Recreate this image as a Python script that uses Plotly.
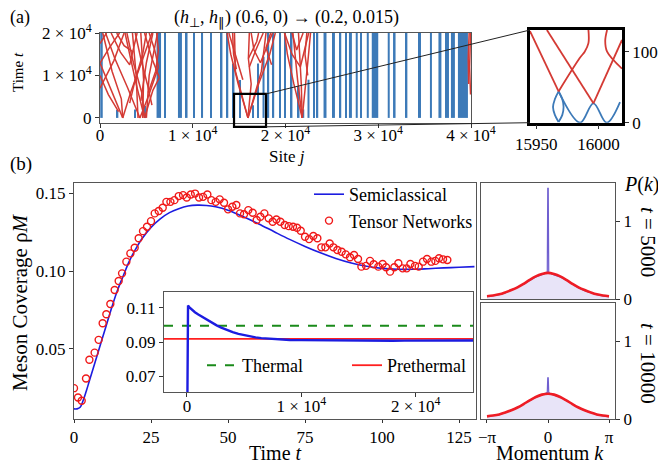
import numpy as np
import plotly.graph_objects as go

# the page puts the figure 8px in from the top-left corner of the window
OFF = 8
W, H = 666 - OFF, 463 - OFF
FONT = "Liberation Serif"
RED = "#d43a34"
BLUE = "#3d7ab8"

# ---- panel (a): stationary mesons (blue) and moving domain walls (red)
bar_sites = [160, 1900, 3770, 4850, 6340, 7010, 8620, 9330, 10130, 11030,
             11940, 13120, 13750, 14390, 15090, 16490, 17030, 17630, 18160, 18700,
             19400, 19940, 20640, 21400, 21940, 22480, 23070, 23450, 24260, 25170,
             25930, 26520, 27000, 27680, 28140, 28870, 29650, 31130, 31730, 33060,
             34500, 35680, 36650, 37410, 38050, 39130]
bar_widths = [270, 160, 160, 160, 485, 160, 430, 215, 160, 160,
              160, 160, 160, 215, 160, 160, 160, 215, 160, 160,
              160, 160, 215, 215, 160, 215, 160, 160, 320, 320,
              160, 160, 320, 215, 215, 215, 700, 215, 270, 160,
              215, 215, 320, 430, 430, 1080]
bar_heights = [20000, 1900, 2000, 2800, 20000, 20000, 20000, 20000, 20000, 20000,
               20000, 20000, 20000, 12800, 8900, 3000, 12800, 14400, 20000, 20000,
               20000, 20000, 20000, 7400, 2000, 9000, 20000, 20000, 20000, 20000,
               20000, 20000, 20000, 20000, 20000, 20000, 20000, 20000, 20000, 20000,
               20000, 20000, 20000, 20000, 20000, 20000]

red_paths = [
    # left cluster
    [(2450, 0), (1200, 6500), (0, 12900)],
    [(0, 12900), (1000, 16500), (2100, 20000)],
    [(0, 7000), (1500, 13500), (2600, 20000)],
    [(0, 17500), (700, 20000)],
    [(2450, 0), (3300, 6000), (4300, 12000), (5600, 20000)],
    [(4300, 0), (3000, 7000), (1600, 14000), (600, 20000)],
    [(4300, 0), (5200, 5000), (6300, 12000)],
    [(4800, 0), (3900, 8000), (2700, 20000)],
    [(4800, 0), (5700, 6500), (6400, 9500)],
    [(4100, 0), (3900, 10000), (3500, 20000)],
    [(4600, 0), (4700, 9000), (4400, 20000)],
    [(5000, 0), (5300, 10000), (6200, 20000)],
    [(6400, 9500), (5600, 14000), (4800, 20000)],
    [(6300, 12000), (5900, 16000), (5300, 20000)],
    [(1200, 20000), (2200, 15500), (3200, 12500), (4000, 20000)],
    [(300, 20000), (1300, 11000), (2300, 4500), (2450, 0)],
    [(3800, 20000), (4400, 14000), (5100, 8000), (5600, 3000)],
    [(2900, 20000), (3600, 13000), (4500, 6000), (4800, 0)],
    [(5000, 20000), (4600, 15000), (3800, 9000), (3200, 3500)],
    [(6100, 20000), (6300, 16000), (6000, 11000), (5200, 6000)],
    [(1800, 20000), (2600, 17000), (3600, 15500)],
    [(0, 10000), (900, 5500), (2000, 1500)],
    [(5700, 20000), (5000, 13000), (4400, 4000)],
    # middle cluster
    [(15950, 0), (14900, 8000), (14100, 15000), (13700, 20000)],
    [(15950, 0), (17100, 8000), (18300, 15000), (18900, 20000)],
    [(15950, 0), (15200, 6500), (14600, 11000), (14500, 20000)],
    [(13900, 20000), (14700, 14000), (15400, 9000)],
    [(15950, 0), (16300, 8000), (16000, 14000), (16100, 20000)],
    [(15950, 0), (16700, 6000), (17400, 11000), (17900, 20000)],
    [(16000, 14000), (16900, 18000), (17100, 20000)],
    [(17600, 20000), (16800, 16000), (16100, 12000)],
    [(14300, 20000), (14400, 15000), (14700, 11500)],
    [(18400, 20000), (17900, 16500), (18500, 12500)],
    [(16300, 20000), (16600, 16000), (17300, 13000), (18600, 20000)],
    # right cluster
    [(21800, 0), (20900, 8000), (20200, 15000), (19900, 20000)],
    [(21800, 0), (22100, 6000), (22400, 13000), (22700, 20000)],
    [(21800, 0), (21300, 9000), (20800, 20000)],
    [(19900, 20000), (20700, 15000), (21600, 12000), (22500, 20000)],
    [(20700, 20000), (21200, 16000), (21900, 20000)],
    [(22300, 20000), (22100, 15000), (22400, 10000)],
    [(21800, 0), (21700, 8000), (21400, 20000)],
    # right edge
    [(39950, 5500), (39850, 12000), (39950, 20000)],
    [(39750, 8000), (39700, 14000), (39800, 20000)],
]

# zoomed inset of panel (a)
inset_red = [
    [(15945, 129), (15968, 44)],
    [(15958.6, 130.5), (15996, 27.3)],
    [(15992, 130.5), (15992, 112), (15989, 100), (15985, 91), (15968, 44)],
    [(16007, 130.5), (16005.5, 115), (16007, 100), (16019, 76)],
    [(16019, 116.5), (15996, 27.3)],
]
inset_blue = [
    [(15968, 44), (15965, 33), (15963.5, 22), (15965, 11), (15968, 1)],
    [(15968, 44), (15971, 33), (15972, 22), (15971, 11), (15968, 1)],
    [(15968, 44), (15985.3, 0), (15996, 27.3), (16006.7, 0), (16017.4, 29)],
]
zoom_sites = [14450, 17900]
zoom_times = [-2100, 5650]

# ---- panel (b): meson coverage
sc_t = [0, 1, 2, 3, 4, 5, 6, 8, 10, 12, 14, 16, 18, 20, 22, 25, 28, 31, 34, 37,
        40, 43, 46, 50, 55, 60, 65, 70, 75, 80, 85, 90, 95, 100, 105, 110, 115,
        120, 125, 130]
sc_y = [0.0115, 0.0115, 0.0125, 0.017, 0.023, 0.0295, 0.036, 0.049, 0.062, 0.075,
        0.087, 0.097, 0.1065, 0.114, 0.1205, 0.128, 0.1335, 0.1375, 0.140, 0.1417,
        0.1423, 0.1421, 0.1412, 0.139, 0.1348, 0.1302, 0.1252, 0.1203, 0.1158, 0.1117,
        0.1081, 0.1052, 0.1031, 0.1017, 0.1011, 0.1011, 0.1015, 0.102, 0.1024, 0.1028]

tn_t = [0, 1.3, 2.5, 3.9, 5.0, 6.7, 8.0, 9.3, 10.5, 11.8, 13.2, 14.5, 15.6, 17.0,
        18.3, 19.7, 21.0, 22.4, 23.7, 25.0, 26.2, 27.5, 28.8, 30.0, 31.3, 32.6,
        34.0, 35.4, 36.6, 37.9, 39.3, 40.6, 41.9, 43.3, 44.6, 46.0, 47.3, 48.7,
        50.0, 51.4, 52.7, 53.9, 55.2, 56.6, 58.0, 59.3, 60.5, 61.8, 63.2, 64.5,
        65.7, 67.0, 68.4, 69.7, 71.1, 72.4, 73.6, 75.0, 76.3, 77.7, 79.0, 80.3,
        81.6, 83.0, 84.2, 85.5, 86.9, 88.2, 89.6, 90.9, 92.2, 93.3, 94.8, 96.1,
        97.3, 98.8, 100.2, 101.3, 102.6, 104.0, 105.3, 106.7, 108.0, 109.2, 110.7,
        111.9, 113.3, 114.6, 116.0, 117.3, 118.5, 119.8, 121.2]
tn_y = [0.0248, 0.0188, 0.0167, 0.031, 0.043, 0.0476, 0.0558, 0.0665, 0.0722, 0.0788,
        0.0878, 0.0936, 0.0985, 0.106, 0.1113, 0.1149, 0.121, 0.1256, 0.1284, 0.132,
        0.137, 0.1385, 0.1406, 0.1444, 0.1444, 0.1455, 0.1481, 0.1487, 0.1472, 0.1491,
        0.1497, 0.1472, 0.1476, 0.1491, 0.1455, 0.1444, 0.146, 0.1438, 0.1396, 0.1413,
        0.1424, 0.137, 0.1364, 0.1391, 0.1374, 0.1327, 0.1348, 0.137, 0.1338, 0.1316,
        0.1331, 0.1316, 0.1295, 0.1288, 0.1284, 0.1278, 0.1258, 0.122, 0.1205, 0.1225,
        0.121, 0.1152, 0.1152, 0.1177, 0.1152, 0.1135, 0.1124, 0.1107, 0.1088, 0.1103,
        0.1077, 0.1028, 0.1033, 0.1065, 0.1043, 0.1028, 0.1045, 0.1024, 0.0996, 0.1024,
        0.105, 0.1017, 0.1017, 0.1045, 0.1033, 0.1028, 0.106, 0.1077, 0.106, 0.1065,
        0.1082, 0.1075, 0.1071]

# long-time inset
long_t = [0, 40, 100, 200, 400, 700, 1000, 1400, 1800, 2200, 2600, 3000, 3500, 4000,
          4500, 5000, 5500, 6000, 6500, 7000, 7500, 8000, 8500, 9000, 10000, 11000,
          12000, 13000, 14000, 15000, 16000, 17000, 18000, 19000, 20000, 21000, 22000,
          23000, 24000, 25000]
long_y = [0.012, 0.06, 0.1115, 0.1105, 0.1092, 0.1075, 0.1062, 0.1045, 0.1028, 0.1012,
          0.0998, 0.0985, 0.097, 0.0958, 0.0948, 0.094, 0.0933, 0.0927, 0.0923, 0.0920,
          0.0918, 0.0915, 0.0914, 0.0912, 0.0911, 0.0910, 0.0909, 0.0909, 0.0908, 0.0907,
          0.0908, 0.0908, 0.0907, 0.0908, 0.0908, 0.0909, 0.0908, 0.0909, 0.0909, 0.0909]
thermal_value = 0.0996
prethermal_value = 0.0918

# momentum distributions (k in units of pi)
fit_k = [-1.0, -0.9, -0.8, -0.7, -0.6, -0.5, -0.4, -0.3, -0.2, -0.1, 0.0,
         0.1, 0.2, 0.3, 0.4, 0.5, 0.6, 0.7, 0.8, 0.9, 1.0]
fit_5000 = [0.035, 0.045, 0.06, 0.085, 0.115, 0.15, 0.195, 0.245, 0.29, 0.32, 0.335,
            0.32, 0.29, 0.245, 0.195, 0.15, 0.115, 0.085, 0.06, 0.045, 0.035]
fit_10000 = [0.034, 0.044, 0.059, 0.083, 0.113, 0.148, 0.192, 0.24, 0.283, 0.313, 0.325,
             0.313, 0.283, 0.24, 0.192, 0.148, 0.113, 0.083, 0.059, 0.044, 0.034]
pk_k = [-1.0, -0.9, -0.8, -0.7, -0.6, -0.5, -0.4, -0.3, -0.2, -0.1,
        -0.04, -0.012, -0.004, 0.004, 0.012, 0.04,
        0.1, 0.2, 0.3, 0.4, 0.5, 0.6, 0.7, 0.8, 0.9, 1.0]
pk_5000 = [0.03, 0.042, 0.055, 0.078, 0.112, 0.147, 0.19, 0.238, 0.282, 0.312,
           0.33, 0.345, 1.42, 1.42, 0.345, 0.33,
           0.31, 0.283, 0.24, 0.188, 0.142, 0.108, 0.08, 0.056, 0.04, 0.03]
pk_10000 = [0.032, 0.04, 0.057, 0.082, 0.11, 0.148, 0.192, 0.24, 0.28, 0.308,
            0.325, 0.34, 0.53, 0.53, 0.34, 0.325,
            0.305, 0.282, 0.238, 0.19, 0.145, 0.11, 0.08, 0.057, 0.041, 0.03]


# layout positions below are given in window pixels
def dom_x(left, right):
    return [(left - OFF) / W, (right - OFF) / W]


def dom_y(top, bottom):
    return [1 - (bottom - OFF) / H, 1 - (top - OFF) / H]


def paths_xy(paths):
    xs, ys = [], []
    for p in paths:
        xs += [q[0] for q in p] + [None]
        ys += [q[1] for q in p] + [None]
    return xs, ys


def to_paper(xv, yv, xdom, ydom, xr, yr):
    return (xdom[0] + (xv - xr[0]) / (xr[1] - xr[0]) * (xdom[1] - xdom[0]),
            ydom[0] + (yv - yr[0]) / (yr[1] - yr[0]) * (ydom[1] - ydom[0]))


X1, Y1 = dom_x(100, 471), dom_y(33, 123)
X2, Y2 = dom_x(530, 622), dom_y(30, 122.7)
X3, Y3 = dom_x(74, 476), dom_y(183, 419)
X4, Y4 = dom_x(164, 473), dom_y(292, 392)
X5, Y5 = dom_x(481, 615), dom_y(183, 299)
X6, Y6 = dom_x(481, 615), dom_y(303, 419)
R1x, R1y = [0, 40000], [-1200, 20000]
R2x, R2y = [15945, 16019], [0, 130.5]

fig = go.Figure()

# panel (a)
fig.add_trace(go.Bar(x=bar_sites, y=bar_heights, width=bar_widths, base=0,
                     marker=dict(color=BLUE, line=dict(width=0)),
                     xaxis="x", yaxis="y", showlegend=False))
rx, ry = paths_xy(red_paths)
fig.add_trace(go.Scatter(x=rx, y=ry, mode="lines", line=dict(color=RED, width=1.5),
                         xaxis="x", yaxis="y", showlegend=False))
bx, by = paths_xy(inset_blue)
fig.add_trace(go.Scatter(x=bx, y=by, mode="lines", line=dict(color=BLUE, width=1.8),
                         line_shape="spline", xaxis="x2", yaxis="y2", showlegend=False))
ix, iy = paths_xy(inset_red)
fig.add_trace(go.Scatter(x=ix, y=iy, mode="lines", line=dict(color=RED, width=1.8),
                         line_shape="spline", xaxis="x2", yaxis="y2", showlegend=False))

# panel (b) main
fig.add_trace(go.Scatter(x=sc_t, y=sc_y, mode="lines", name="Semiclassical",
                         line=dict(color="#1c1ce0", width=1.6), line_shape="spline",
                         xaxis="x3", yaxis="y3", legend="legend"))
fig.add_trace(go.Scatter(x=tn_t, y=tn_y, mode="markers", name="Tensor Networks",
                         marker=dict(symbol="circle", size=7, color="rgba(255,255,255,0)",
                                     line=dict(width=1.4, color="#f01818")),
                         xaxis="x3", yaxis="y3", legend="legend"))

# panel (b) inset
fig.add_trace(go.Scatter(x=[-2000, 25000], y=[thermal_value] * 2, mode="lines",
                         name="Thermal", line=dict(color="#1a8a1a", width=2, dash="dash"),
                         xaxis="x4", yaxis="y4", legend="legend2"))
fig.add_trace(go.Scatter(x=[-2000, 25000], y=[prethermal_value] * 2, mode="lines",
                         name="Prethermal", line=dict(color="#ff1f1f", width=1.8),
                         xaxis="x4", yaxis="y4", legend="legend2"))
fig.add_trace(go.Scatter(x=long_t, y=long_y, mode="lines", line=dict(color="#1c1ce0", width=2.4),
                         xaxis="x4", yaxis="y4", showlegend=False))

# right panels
for pk, fit, xa, ya in [(pk_5000, fit_5000, "x5", "y5"), (pk_10000, fit_10000, "x6", "y6")]:
    fig.add_trace(go.Scatter(x=[k * np.pi for k in pk_k], y=pk, mode="lines", fill="tozeroy",
                             fillcolor="rgba(150,130,225,0.22)",
                             line=dict(color="#6f5fd0", width=1.2),
                             xaxis=xa, yaxis=ya, showlegend=False))
    fig.add_trace(go.Scatter(x=[k * np.pi for k in fit_k], y=fit, mode="lines",
                             line=dict(color="#ee1c25", width=2.6), line_shape="spline",
                             xaxis=xa, yaxis=ya, showlegend=False))

base = dict(showline=True, linecolor="#555", linewidth=1, mirror=True, ticks="outside",
            ticklen=4, tickcolor="#333", showgrid=False, zeroline=False, automargin=False,
            tickfont=dict(family=FONT, size=17, color="black"))
e4 = ["0", "1 × 10<sup>4</sup>", "2 × 10<sup>4</sup>", "3 × 10<sup>4</sup>", "4 × 10<sup>4</sup>"]

fig.update_layout(
    width=W, height=H, margin=dict(l=0, r=0, t=0, b=0, autoexpand=False),
    paper_bgcolor="white", plot_bgcolor="white",
    font=dict(family=FONT, size=17, color="black"),
    xaxis=dict(base, domain=X1, range=R1x, anchor="y", ticklabelstandoff=-7,
               tickvals=[0, 10000, 20000, 30000, 40000], ticktext=e4),
    yaxis=dict(base, domain=Y1, range=R1y, anchor="x",
               tickvals=[0, 10000, 20000], ticktext=e4[:3]),
    xaxis2=dict(base, domain=X2, range=R2x, anchor="y2", linecolor="black", linewidth=2.5,
                tickvals=[15950, 16000], ticktext=["15950", "16000"]),
    yaxis2=dict(base, domain=Y2, range=R2y, anchor="x2", side="right", linecolor="black",
                linewidth=2.5, tickvals=[0, 100], ticktext=["0", "100"]),
    xaxis3=dict(base, domain=X3, range=[0, 130.5], anchor="y3", ticklen=3,
                tickvals=[0, 25, 50, 75, 100, 125]),
    yaxis3=dict(base, domain=Y3, range=[0.005, 0.1565], anchor="x3",
                tickvals=[0.05, 0.10, 0.15], ticktext=["0.05", "0.10", "0.15"]),
    xaxis4=dict(base, domain=X4, range=[-2000, 25000], anchor="y4", ticklabelstandoff=-5,
                tickvals=[0, 10000, 20000], ticktext=e4[:3]),
    yaxis4=dict(base, domain=Y4, range=[0.0606, 0.1194], anchor="x4",
                tickvals=[0.07, 0.09, 0.11], ticktext=["0.07", "0.09", "0.11"]),
    xaxis5=dict(base, domain=X5, range=[-3.45, 3.45], anchor="y5",
                tickvals=[-np.pi, 0, np.pi], showticklabels=False, ticks=""),
    yaxis5=dict(base, domain=Y5, range=[0, 1.49], anchor="x5", side="right",
                tickvals=[0, 1], ticktext=["0", "1"]),
    xaxis6=dict(base, domain=X6, range=[-3.45, 3.45], anchor="y6", ticklen=3,
                tickvals=[-np.pi, 0, np.pi], ticktext=["−π", "0", "π"]),
    yaxis6=dict(base, domain=Y6, range=[0, 1.49], anchor="x6", side="right",
                tickvals=[0, 1], ticktext=["0", "1"]),
    legend=dict(x=(309 - OFF) / W, y=1 - (176 - OFF) / H, xanchor="left", yanchor="top",
                bgcolor="rgba(0,0,0,0)", font=dict(family=FONT, size=18)),
    legend2=dict(orientation="h", x=(202 - OFF) / W, y=1 - (347 - OFF) / H,
                 xanchor="left", yanchor="top", bgcolor="rgba(0,0,0,0)",
                 font=dict(family=FONT, size=18), entrywidth=100),
)

# zoom box and connectors for panel (a)
bx0, by0 = to_paper(zoom_sites[0], zoom_times[0], X1, Y1, R1x, R1y)
bx1, by1 = to_paper(zoom_sites[1], zoom_times[1], X1, Y1, R1x, R1y)
fig.add_shape(type="rect", xref="paper", yref="paper", x0=bx0, y0=by0, x1=bx1, y1=by1,
              line=dict(color="black", width=2.2))
fig.add_shape(type="line", xref="paper", yref="paper", x0=bx1, y0=by1, x1=X2[0], y1=Y2[1],
              line=dict(color="#222", width=1))
fig.add_shape(type="line", xref="paper", yref="paper", x0=bx1, y0=by0, x1=X2[0], y1=Y2[0],
              line=dict(color="#222", width=1))


def label(text, px, py, size, angle=0, anchor="center"):
    fig.add_annotation(text=text, x=max(px - OFF, 0) / W, y=1 - (py - OFF) / H,
                       xref="paper", yref="paper", showarrow=False, textangle=angle,
                       xanchor=anchor, yanchor="middle",
                       font=dict(family=FONT, size=size, color="black"))


label("(a)", 2, 17, 18, anchor="left")
label("(<i>h</i><sub>⊥</sub>, <i>h</i><sub>∥</sub>) (0.6, 0) → (0.2, 0.015)", 286, 18, 18)
label("Time <i>t</i>", 18, 72, 15, angle=-90)
label("Site <i>j</i>", 287, 157, 17)
label("(b)", 0, 164, 19, anchor="left")
label("Meson Coverage ρ<i>M</i>", 20, 302, 21, angle=-90)
label("Time <i>t</i>", 275, 453, 20)
label("Momentum <i>k</i>", 550, 453, 20)
label("<i>P</i>(<i>k</i>)", 641, 185, 20)
label("<i>t</i> = 5000", 648, 242, 21, angle=90)
label("<i>t</i> = 10000", 648, 363, 21, angle=90)

fig.write_html("out.html")
